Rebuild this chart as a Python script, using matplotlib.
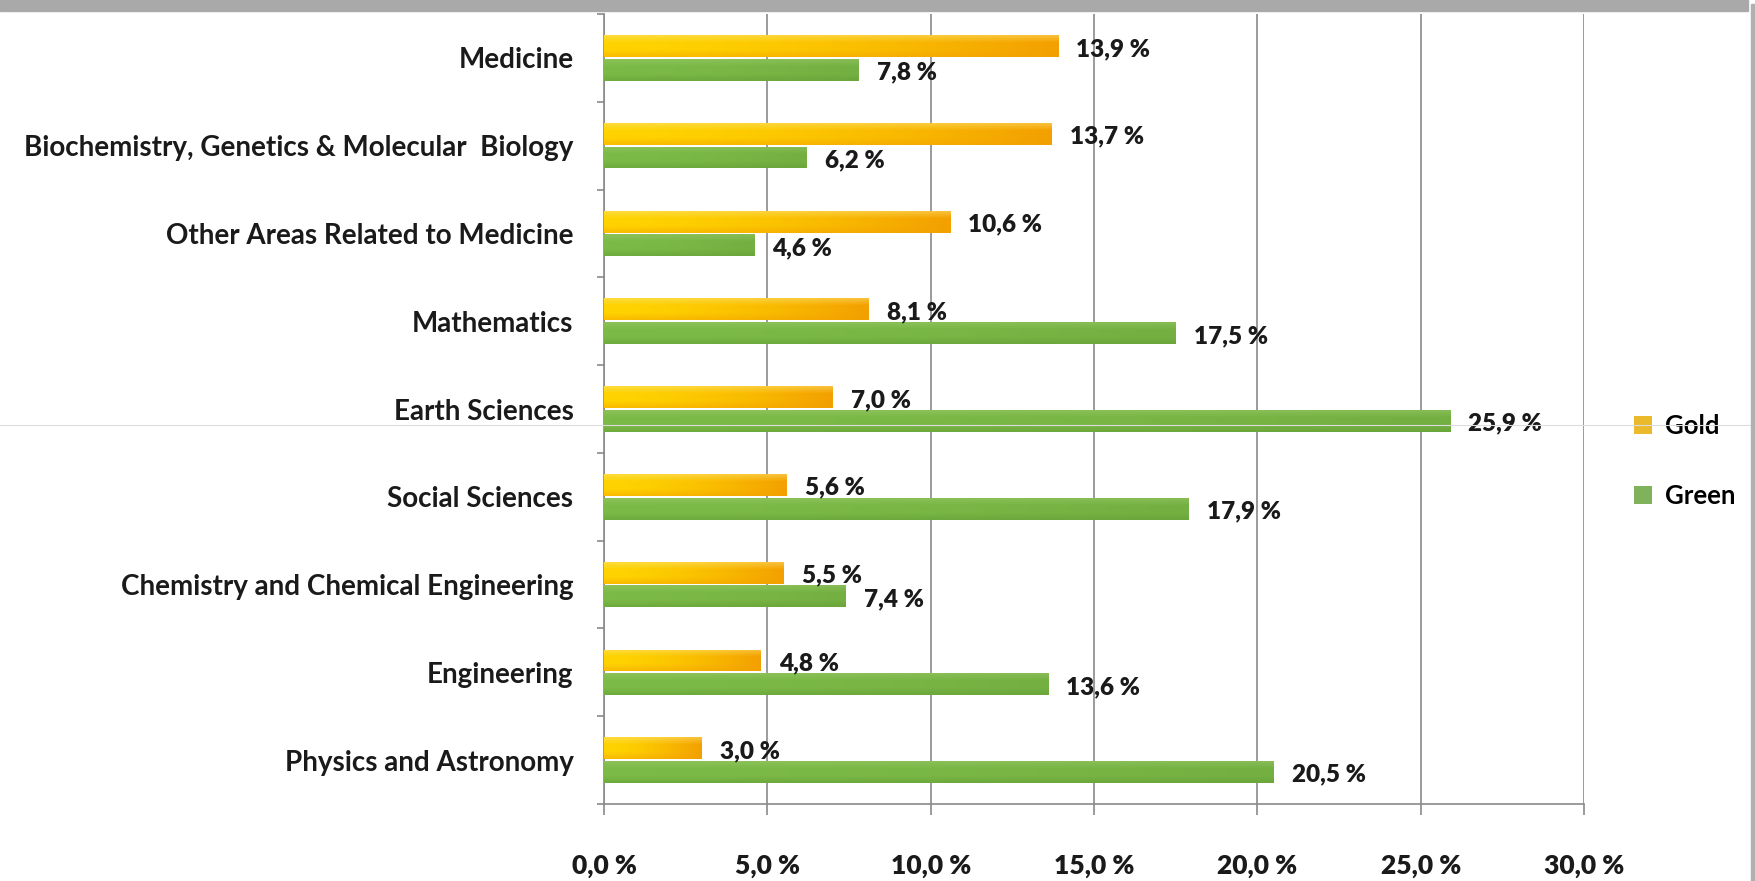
import matplotlib
matplotlib.use('Agg')
import numpy as np
import matplotlib.pyplot as plt
from matplotlib.colors import to_rgb
from matplotlib.lines import Line2D
from matplotlib.patches import Rectangle

categories = ['Medicine',
              'Biochemistry, Genetics & Molecular  Biology',
              'Other Areas Related to Medicine',
              'Mathematics',
              'Earth Sciences',
              'Social Sciences',
              'Chemistry and Chemical Engineering',
              'Engineering',
              'Physics and Astronomy']
gold = [13.9, 13.7, 10.6, 8.1, 7.0, 5.6, 5.5, 4.8, 3.0]
green = [7.8, 6.2, 4.6, 17.5, 25.9, 17.9, 7.4, 13.6, 20.5]
xticks = [0, 5, 10, 15, 20, 25, 30]
series_names = ['Gold', 'Green']


def pct(v: float) -> str:
  """Excel style label with a decimal comma."""
  return f'{v:.1f}'.replace('.', ',') + ' %'


def gradient(left: str, right: str, top: str, bottom: str,
             nx: int = 64, ny: int = 16) -> np.ndarray:
  """Build an RGB image blending left->right and lightening/darkening top->bottom."""
  l, r = np.array(to_rgb(left)), np.array(to_rgb(right))
  t, b = np.array(to_rgb(top)), np.array(to_rgb(bottom))
  u = np.linspace(0, 1, nx)[None, :, None] ** 1.6
  v = np.linspace(0, 1, ny)[:, None, None]
  base = l * (1 - u) + r * u
  # top rows pulled toward `top`, bottom rows toward `bottom`
  wt = np.clip(1 - v * 3, 0, 1) * 0.45
  wb = np.clip(v * 3 - 2, 0, 1) * 0.45
  img = base * (1 - wt - wb) + t * wt + b * wb
  return np.clip(img, 0, 1)


def shade_bars(ax, bars, img):
  """Paint each bar with a gradient image clipped to the bar rectangle."""
  for bar in bars:
    x0, y0 = bar.get_x(), bar.get_y()
    w, h = bar.get_width(), bar.get_height()
    im = ax.imshow(img, extent=(x0, x0 + w, y0 + h, y0), aspect='auto',
                   interpolation='bilinear', zorder=3)
    im.set_clip_path(bar)


if __name__ == '__main__':
  W, H, dpi = 1756, 881, 100
  fig = plt.figure(figsize=(W / dpi, H / dpi), dpi=dpi)
  ax = fig.add_axes([604 / W, 1 - 804 / H, (1584 - 604) / W, (804 - 14) / H])

  font = ['Lato', 'DejaVu Sans']
  y = np.arange(len(categories))
  bh = 0.25
  off = 0.135

  gb = ax.barh(y - off, gold, height=bh, color='#F7C000', linewidth=0, zorder=2)
  nb = ax.barh(y + off, green, height=bh, color='#78B443', linewidth=0, zorder=2)
  shade_bars(ax, gb, gradient('#FFD300', '#F3A000', '#FFE680', '#F2A000'))
  shade_bars(ax, nb, gradient('#7CBA47', '#74B041', '#9CCB6E', '#5E9A34'))

  # value labels just outside the bar ends
  for bars, vals in ((gb, gold), (nb, green)):
    for bar, v in zip(bars, vals):
      ax.annotate(pct(v), (bar.get_width(), bar.get_y() + bar.get_height() / 2),
                  xytext=(13, -2), textcoords='offset points',
                  ha='left', va='center', fontsize=17.5, fontweight='heavy',
                  family=font, color='#1a1a1a', zorder=5)

  ax.set_xlim(xticks[0], xticks[-1])
  ax.set_ylim(len(categories) - 0.5, -0.5)
  ax.set_xticks(xticks)
  ax.set_xticklabels([pct(t) for t in xticks], fontsize=19, fontweight='heavy',
                     family=font, color='#1a1a1a')
  ax.set_yticks(y)
  ax.set_yticklabels(categories, fontsize=20, fontweight='bold',
                     family=font, color='#1a1a1a')
  ax.set_yticks(np.arange(len(categories) + 1) - 0.5, minor=True)

  ax.tick_params(axis='y', which='major', length=0, pad=22)
  ax.tick_params(axis='y', which='minor', length=5, color='#8a8a8a', width=1.2)
  ax.tick_params(axis='x', length=8, color='#8a8a8a', width=1.2, pad=28)

  ax.grid(axis='x', color='#8a8a8a', linewidth=1.2, zorder=0)
  ax.set_axisbelow(True)
  for side in ('top', 'right'):
    ax.spines[side].set_visible(False)
  for side in ('left', 'bottom'):
    ax.spines[side].set_color('#8a8a8a')
    ax.spines[side].set_linewidth(1.2)

  handles = [Line2D([], [], marker='s', linestyle='none', markersize=12.5,
                    markerfacecolor=c, markeredgewidth=0)
             for c in ('#EBB92C', '#7FB25A')]
  leg = fig.legend(handles, series_names, loc='center left',
                   bbox_to_anchor=(1610 / W, 1 - 461 / H), frameon=False,
                   prop={'family': font, 'size': 18.5, 'weight': 'bold'},
                   handlelength=0.8, handletextpad=0.45, labelspacing=1.8)

  # grey frame remnants at the top and right edges of the screenshot
  fig.patches.append(Rectangle((0, 1 - 11 / H), 1748 / W, 11 / H,
                               transform=fig.transFigure, color='#a9a9a9', zorder=10))
  fig.patches.append(Rectangle((1751 / W, 0), 5 / W, 1 - 4 / H,
                               transform=fig.transFigure, color='#b0b0b0', zorder=10))
  fig.lines.append(Line2D([0, 1751 / W], [1 - 425 / H] * 2, transform=fig.transFigure,
                          color='#dcdcdc', linewidth=0.8, zorder=10))

  fig.savefig('out.png', dpi=dpi)
